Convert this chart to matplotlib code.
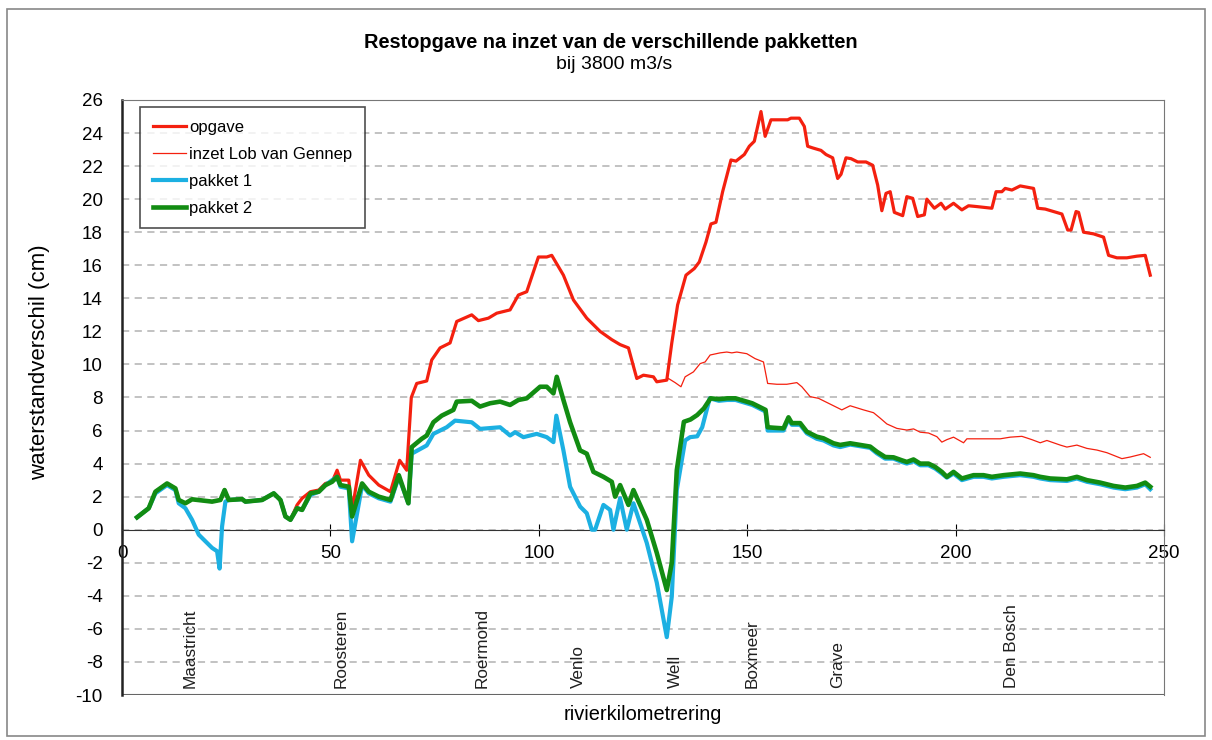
import matplotlib
matplotlib.use('Agg')
import matplotlib.pyplot as plt
from matplotlib.patches import Rectangle

plt.rcParams['font.family'] = ['Liberation Sans', 'DejaVu Sans']
plt.rcParams['axes.unicode_minus'] = False

# opgave (thick red)
km_opgave = [3.6, 6.4, 8.0, 10.8, 12.8, 13.6, 15.2, 16.8, 21.6, 23.6, 24.6, 25.6, 28.8, 29.6, 33.6,
             36.4, 38.0, 39.2, 40.4, 42.0, 43.2, 45.2, 47.2, 48.8, 50.4, 51.6, 52.4, 54.4, 55.2, 57.2,
             59.2, 61.6, 64.4, 66.6, 68.3, 69.4, 70.7, 73.1, 74.3, 76.3, 78.7, 80.3, 83.9, 85.5, 87.9,
             89.9, 93.1, 95.1, 97.1, 99.9, 101.9, 103.1, 105.9, 108.3, 111.5, 114.7, 117.5, 119.5, 121.5,
             123.5, 125.1, 127.5, 128.3, 130.7, 131.9, 133.3, 135.3, 137.3, 138.5, 140.1, 141.3, 142.5,
             144.1, 146.1, 147.3, 149.3, 150.5, 151.7, 153.3, 154.3, 155.7, 159.7, 160.5, 162.5, 163.7,
             164.5, 165.7, 167.7, 168.9, 170.5, 171.7, 172.5, 173.7, 174.9, 176.5, 178.5, 180.1, 181.3,
             182.3, 183.3, 184.3, 185.3, 187.3, 188.3, 189.7, 190.9, 192.5, 193.1, 194.9, 196.5, 197.5,
             199.5, 201.5, 203.1, 205.1, 208.7, 209.7, 211.1, 211.9, 213.5, 215.5, 218.7, 219.7, 221.5,
             223.5, 225.5, 226.9, 227.7, 228.9, 229.5, 230.7, 233.1, 235.5, 236.7, 238.7, 241.1, 243.5,
             245.5, 246.7]
opgave = [0.75, 1.3, 2.3, 2.8, 2.5, 1.8, 1.6, 1.84, 1.7, 1.8, 2.4, 1.8, 1.85, 1.7, 1.8,
          2.2, 1.8, 0.8, 0.6, 1.5, 1.9, 2.3, 2.4, 2.8, 2.9, 3.6, 3.0, 3.0, 1.2, 4.2,
          3.3, 2.7, 2.3, 4.2, 3.6, 8.0, 8.85, 9.0, 10.27, 11.0, 11.3, 12.6, 13.0, 12.65, 12.8,
          13.1, 13.3, 14.2, 14.4, 16.5, 16.5, 16.6, 15.4, 13.9, 12.8, 12.0, 11.5, 11.2, 11.0,
          9.15, 9.35, 9.25, 8.95, 9.05, 11.3, 13.6, 15.4, 15.8, 16.2, 17.4, 18.5, 18.6,
          20.45, 22.37, 22.3, 22.7, 23.2, 23.5, 25.3, 23.8, 24.8, 24.8, 24.9, 24.9, 24.4,
          23.2, 23.1, 22.95, 22.7, 22.5, 21.25, 21.5, 22.5, 22.45, 22.25, 22.25, 22.05, 20.85,
          19.3, 20.35, 20.45, 19.2, 19.0, 20.15, 20.05, 18.95, 19.05, 20.0, 19.45, 19.75, 19.4,
          19.75, 19.35, 19.6, 19.55, 19.45, 20.45, 20.45, 20.65, 20.55, 20.8, 20.65, 19.45, 19.4,
          19.25, 19.1, 18.13, 18.13, 19.25, 19.2, 18.0, 17.9, 17.7, 16.6, 16.45, 16.45, 16.55,
          16.6, 15.4]

# inzet Lob van Gennep (thin red), same as opgave upstream of km 130.7
km_inzet_tail = [131.1, 132.7, 134.1, 135.1, 137.1, 138.7, 139.9, 141.1, 143.5, 145.1, 146.3, 147.5,
                 149.9, 151.9, 153.9, 154.9, 157.1, 159.5, 161.9, 163.1, 165.1, 167.1, 169.9, 172.7,
                 174.7, 177.9, 180.3, 181.9, 183.5, 185.9, 188.3, 189.9, 191.5, 193.5, 195.5, 196.7,
                 197.9, 199.5, 201.9, 202.7, 210.7, 213.1, 215.9, 218.3, 220.3, 221.9, 225.1, 226.7,
                 229.1, 231.5, 233.9, 236.3, 239.9, 241.9, 245.1, 246.7]
inzet_tail = [9.15, 8.9, 8.65, 9.25, 9.55, 10.05, 10.15, 10.57, 10.7, 10.75, 10.7, 10.75,
              10.65, 10.35, 10.15, 8.85, 8.8, 8.8, 8.9, 8.65, 8.05, 7.95, 7.6, 7.25,
              7.5, 7.25, 7.08, 6.75, 6.4, 6.13, 6.03, 6.1, 5.9, 5.85, 5.63, 5.3,
              5.45, 5.6, 5.26, 5.5, 5.5, 5.6, 5.65, 5.45, 5.26, 5.4, 5.12, 5.0,
              5.12, 4.92, 4.82, 4.66, 4.3, 4.4, 4.6, 4.38]

# pakket 1 (blue)
km_pakket1 = [3.6, 6.4, 8.0, 10.8, 12.8, 13.6, 15.2, 16.8, 18.4, 20.4, 21.6, 22.8, 23.4, 24.0, 24.8,
              25.6, 28.8, 29.6, 33.6, 36.4, 38.0, 39.2, 40.4, 42.0, 43.2, 45.2, 47.2, 48.8, 50.4,
              51.6, 52.4, 54.4, 55.2, 57.6, 59.2, 61.6, 64.4, 66.4, 68.7, 69.5, 73.1, 74.7, 77.9,
              79.9, 83.9, 85.9, 90.7, 93.1, 94.3, 96.3, 99.5, 101.9, 103.5, 104.2, 105.9, 107.5,
              109.9, 111.5, 112.7, 113.5, 115.5, 117.1, 117.9, 119.5, 121.1, 122.7, 125.9, 128.3,
              130.7, 131.9, 133.1, 135.1, 136.3, 138.0, 139.2, 141.0, 143.2, 145.2, 147.2, 149.2,
              151.2, 153.2, 154.4, 154.9, 156.3, 158.7, 159.9, 160.7, 162.7, 164.3, 166.7, 168.3,
              170.7, 172.3, 174.7, 177.1, 179.5, 181.1, 183.1, 185.1, 187.1, 188.3, 189.9, 191.5,
              193.5, 195.1, 196.7, 197.9, 199.5, 201.5, 204.3, 206.7, 208.7, 211.5, 215.5, 218.7,
              220.3, 222.7, 226.7, 229.1, 231.5, 234.7, 237.9, 240.7, 243.5, 245.5, 246.7]
pakket1 = [0.75, 1.3, 2.2, 2.7, 2.4, 1.6, 1.3, 0.6, -0.3, -0.8, -1.1, -1.3, -2.35, 0.2, 1.7,
           1.8, 1.85, 1.7, 1.8, 2.2, 1.8, 0.8, 0.6, 1.3, 1.2, 2.1, 2.3, 2.7, 3.0,
           3.2, 2.6, 2.5, -0.7, 2.7, 2.2, 1.9, 1.7, 3.2, 1.6, 4.6, 5.1, 5.8, 6.2,
           6.6, 6.5, 6.1, 6.2, 5.7, 5.9, 5.6, 5.8, 5.6, 5.3, 6.9, 4.8, 2.6,
           1.4, 1.0, 0.0, 0.0, 1.5, 1.2, 0.0, 1.9, 0.0, 1.6, -0.8, -3.2,
           -6.5, -4.05, 2.4, 5.4, 5.6, 5.65, 6.2, 7.95, 7.8, 7.85, 7.85, 7.7,
           7.55, 7.3, 7.15, 6.0, 6.0, 6.0, 6.7, 6.35, 6.35, 5.83, 5.5, 5.4,
           5.1, 5.0, 5.15, 5.05, 4.95, 4.62, 4.3, 4.3, 4.1, 4.0, 4.15, 3.9,
           3.9, 3.7, 3.4, 3.15, 3.4, 3.0, 3.2, 3.2, 3.1, 3.2, 3.3, 3.2,
           3.1, 3.0, 2.95, 3.1, 2.9, 2.75, 2.55, 2.45, 2.55, 2.75, 2.45]

# pakket 2 (green)
km_pakket2 = [3.6, 6.4, 8.0, 10.8, 12.8, 13.6, 15.2, 16.8, 21.6, 23.6, 24.6, 25.6, 28.8, 29.6, 33.6,
              36.4, 38.0, 39.2, 40.4, 42.0, 43.2, 45.2, 47.2, 48.8, 50.4, 51.6, 52.4, 54.4, 55.2,
              57.6, 59.2, 61.6, 64.4, 66.4, 68.7, 69.5, 71.9, 73.1, 74.7, 76.7, 79.5, 80.3, 83.9,
              85.9, 88.3, 90.7, 93.1, 95.1, 97.1, 100.3, 101.9, 103.5, 104.3, 105.9, 107.5, 109.9,
              111.5, 113.1, 115.5, 117.5, 118.3, 119.5, 121.5, 122.7, 125.9, 128.3, 130.7, 131.9,
              133.1, 134.8, 136.4, 138.0, 139.6, 141.2, 143.2, 145.2, 147.2, 149.2, 151.2, 153.2,
              154.4, 154.9, 156.3, 158.7, 159.9, 160.7, 162.7, 164.3, 166.7, 168.3, 170.7, 172.3,
              174.7, 177.1, 179.5, 181.1, 183.1, 185.1, 187.1, 188.3, 189.9, 191.5, 193.5, 195.1,
              196.7, 197.9, 199.5, 201.5, 204.3, 206.7, 208.7, 211.5, 215.5, 218.7, 220.3, 222.7,
              226.7, 229.1, 231.5, 234.7, 237.9, 240.7, 243.5, 245.5, 246.7]
pakket2 = [0.75, 1.3, 2.3, 2.8, 2.5, 1.8, 1.6, 1.84, 1.7, 1.8, 2.4, 1.8, 1.85, 1.7, 1.8,
           2.2, 1.8, 0.8, 0.6, 1.3, 1.2, 2.2, 2.3, 2.7, 2.9, 3.2, 2.7, 2.6, 0.8,
           2.8, 2.3, 2.0, 1.8, 3.3, 1.6, 5.0, 5.5, 5.7, 6.5, 6.9, 7.25, 7.75, 7.8,
           7.45, 7.65, 7.75, 7.55, 7.85, 7.95, 8.65, 8.65, 8.25, 9.25, 7.85, 6.5, 4.8,
           4.6, 3.5, 3.2, 2.9, 2.0, 2.7, 1.5, 2.4, 0.6, -1.4, -3.65, -2.0,
           3.6, 6.53, 6.67, 6.94, 7.34, 7.95, 7.9, 7.95, 7.95, 7.8, 7.65, 7.4,
           7.25, 6.2, 6.17, 6.13, 6.8, 6.45, 6.45, 5.93, 5.63, 5.53, 5.23, 5.13,
           5.23, 5.13, 5.03, 4.72, 4.4, 4.38, 4.2, 4.1, 4.25, 4.0, 4.0, 3.8,
           3.5, 3.2, 3.5, 3.1, 3.3, 3.3, 3.2, 3.3, 3.4, 3.3, 3.2, 3.1,
           3.05, 3.2, 3.0, 2.85, 2.65, 2.55, 2.65, 2.85, 2.6]

# place names along the river
places = ['Maastricht', 'Roosteren', 'Roermond', 'Venlo', 'Well', 'Boxmeer', 'Grave', 'Den Bosch']
km_places = [16.3, 52.6, 86.4, 109.4, 132.7, 151.2, 171.8, 213.5]

n_shared = km_opgave.index(130.7) + 1
km_inzet = km_opgave[:n_shared] + km_inzet_tail
inzet = opgave[:n_shared] + inzet_tail

fig = plt.figure(figsize=(12.12, 7.4), dpi=100)
ax = fig.add_axes([0.1007, 0.0608, 0.8597, 0.8041])

ax.plot(km_opgave, opgave, color='#F4200F', lw=2.3, label='opgave', zorder=3)
ax.plot(km_inzet, inzet, color='#F4200F', lw=0.9, label='inzet Lob van Gennep', zorder=3)
ax.plot(km_pakket1, pakket1, color='#1CB0E2', lw=3.0, label='pakket 1', zorder=4)
ax.plot(km_pakket2, pakket2, color='#128C12', lw=3.3, label='pakket 2', zorder=5)

for name, k in zip(places, km_places):
    ax.text(k, -9.6, name, rotation=90, ha='center', va='bottom', fontsize=12.3, color='#202020')

ax.set_xlim(0, 250)
ax.set_ylim(-10, 26)
ax.set_xticks(range(0, 251, 50))
ax.set_yticks(range(-10, 27, 2))
ax.yaxis.grid(True, color='#BDBDBD', linestyle=(0, (4, 3)), lw=1.3)
ax.set_axisbelow(True)

ax.spines['bottom'].set_position(('data', 0))
ax.spines['bottom'].set_color('#333333')
ax.spines['left'].set_color('#222222')
ax.spines['left'].set_linewidth(1.8)
ax.spines['top'].set_color('#777777')
ax.spines['right'].set_color('#777777')
ax.axhline(-10, color='#666666', lw=1.5, zorder=1)
ax.tick_params(axis='x', direction='inout', length=8, labelsize=13.5, pad=7)
ax.tick_params(axis='y', direction='out', length=0, labelsize=13.5, pad=14)

ax.set_ylabel('waterstandverschil (cm)', fontsize=16)
ax.yaxis.set_label_coords(-0.069, 0.56)
fig.text(0.530, 0.035, 'rivierkilometrering', ha='center', va='center', fontsize=14.4)

fig.text(0.504, 0.943, 'Restopgave na inzet van de verschillende pakketten', ha='center', va='center',
         fontsize=14.4, fontweight='bold')
fig.text(0.507, 0.913, 'bij 3800 m3/s', ha='center', va='center', fontsize=14)

leg = ax.legend(loc='upper left', bbox_to_anchor=(0.0173, 0.988), fontsize=12, frameon=True, fancybox=False,
                edgecolor='#222222', handlelength=2.0, handletextpad=0.18, labelspacing=0.72,
                borderpad=0.75, borderaxespad=0.0)
leg.get_frame().set_linewidth(1.2)

fig.patches.append(Rectangle((0.006, 0.006), 0.988, 0.982, transform=fig.transFigure, fill=False,
                             edgecolor='#888888', lw=1.2))

fig.savefig('out.png', dpi=100)
